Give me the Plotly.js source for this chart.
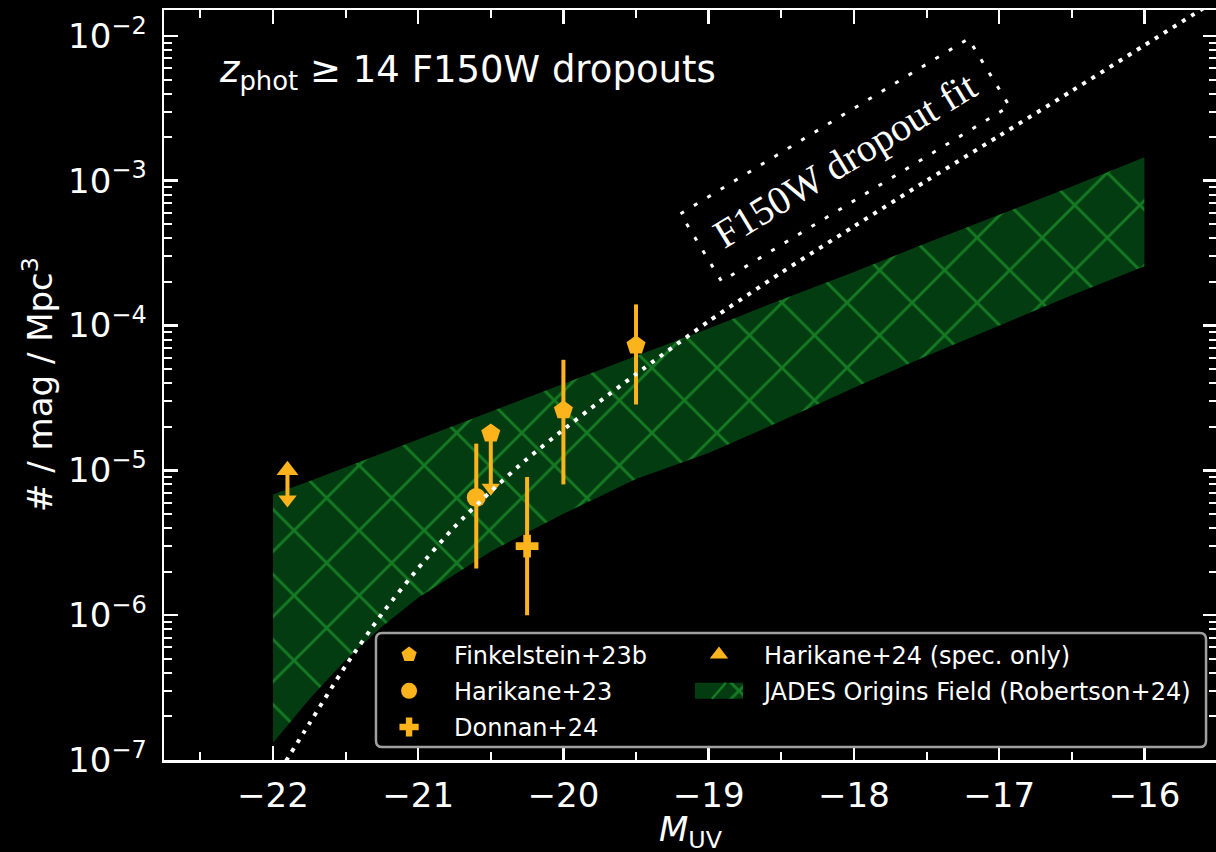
<!DOCTYPE html>
<html>
<head>
<meta charset="utf-8">
<script src="https://cdn.plot.ly/plotly-3.0.1.min.js"></script>
<style>
  html, body { margin: 0; padding: 0; background: #000; overflow: hidden; }
  #chart { width: 1218px; height: 852px; }
</style>
</head>
<body>
<div id="chart"></div>
<script>
// ---- UV luminosity function measurements (M_UV, number density / mag / Mpc^3) ----
const finkX = [-20.5, -20.0, -19.5];
const finkY = [1.8e-5, 2.6e-5, 7.3e-5];
const finkHi = [1.8e-5, 5.8e-5, 1.4e-4];
const finkLo = [7.6e-6, 8.0e-6, 2.85e-5];
const finkIsLimit = [true, false, false];

const hari23X = [-20.6];
const hari23Y = [6.5e-6];
const hari23Hi = [1.53e-5];
const hari23Lo = [2.1e-6];

const donnanX = [-20.25];
const donnanY = [3.0e-6];
const donnanHi = [9.0e-6];
const donnanLo = [1.0e-6];

const hari24X = [-21.9];
const hari24Y = [1.0e-5];
const hari24Lo = [6.3e-6];   // upper limit: arrow end

// JADES Origins Field constraint (Robertson+24), lower/upper envelope
const bandX = [-22, -21.75, -21.5, -21.25, -21, -20.5, -20, -19.5, -19, -18.5, -18, -17.5, -17, -16.5, -16];
const bandUpper = [6.82e-6, 8.4e-6, 1.05e-5, 1.31e-5, 1.65e-5, 2.57e-5, 3.98e-5, 6.17e-5, 9.55e-5, 1.51e-4, 2.34e-4, 3.72e-4, 5.82e-4, 9.12e-4, 1.45e-3];
const bandLower = [1.31e-7, 2.63e-7, 4.90e-7, 8.32e-7, 1.32e-6, 2.75e-6, 5.01e-6, 8.71e-6, 1.32e-5, 2.19e-5, 3.72e-5, 6.17e-5, 1.0e-4, 1.62e-4, 2.57e-4];

// F150W dropout fit curve
const fitX = [-21.95, -21.75, -21.5, -21.25, -21.0, -20.75, -20.5, -20.25, -20.0, -19.75, -19.5, -19.0, -18.5, -18.0, -17.5, -17.0, -16.5, -16.0, -15.5];
const fitY = [8.5e-8, 1.78e-7, 4.47e-7, 1.02e-6, 2.11e-6, 4.07e-6, 7.16e-6, 1.20e-5, 1.91e-5, 2.99e-5, 4.62e-5, 1.07e-4, 2.32e-4, 4.84e-4, 1.0e-3, 2.04e-3, 4.17e-3, 8.61e-3, 1.78e-2];

// axis ticks
const xTickVals = [-22, -21, -20, -19, -18, -17, -16];
const yTickExponents = [-7, -6, -5, -4, -3, -2];

// ---- styling ----
const ORANGE = '#fdb41c';
const BAND_FILL = 'rgb(2,60,16)';
const BAND_HATCH = 'rgb(22,122,36)';
const FONT = 'DejaVu Sans, sans-serif';
const LEGEND_ITEM_W = 80;

function errTrace(name, xs, ys, his, los, symbol, size, legend, rank) {
  return {
    type: 'scatter', mode: 'markers', name: name, legend: legend,
    legendgroup: name, legendrank: rank,
    x: xs, y: ys,
    marker: { symbol: symbol, size: size, color: ORANGE, line: { width: 0 } },
    error_y: {
      type: 'data', symmetric: false,
      array: ys.map((v, i) => his[i] - v),
      arrayminus: ys.map((v, i) => v - los[i]),
      color: ORANGE, thickness: 4, width: 0
    },
    cliponaxis: false
  };
}

const bandTrace = {
  type: 'scatter', mode: 'lines', name: 'JADES Origins Field (Robertson+24)',
  legend: 'legend2', legendgroup: 'jades', legendrank: 2,
  x: bandX.concat(bandX.slice().reverse()),
  y: bandUpper.concat(bandLower.slice().reverse()),
  fill: 'toself', fillcolor: BAND_FILL,
  fillpattern: { shape: 'x', size: 46, solidity: 0.12, fgcolor: BAND_HATCH, bgcolor: BAND_FILL, fillmode: 'replace' },
  line: { width: 0, color: BAND_FILL },
  hoverinfo: 'skip'
};

const finkTrace = errTrace('Finkelstein+23b', finkX, finkY, finkHi, finkLo, 'pentagon', 20, 'legend', 1);
const hari23Trace = errTrace('Harikane+23', hari23X, hari23Y, hari23Hi, hari23Lo, 'circle', 19, 'legend', 2);
const donnanTrace = errTrace('Donnan+24', donnanX, donnanY, donnanHi, donnanLo, 'cross', 19, 'legend', 3);
const hari24Trace = errTrace('Harikane+24 (spec. only)', hari24X, hari24Y, hari24Y, hari24Lo, 'triangle-up', 19, 'legend2', 1);

// downward arrows marking upper limits
const arrowX = finkX.filter((_, i) => finkIsLimit[i]).concat(hari24X);
const arrowY = finkLo.filter((_, i) => finkIsLimit[i]).concat(hari24Lo);
const arrowTrace = {
  type: 'scatter', mode: 'markers', showlegend: false,
  x: arrowX, y: arrowY,
  marker: { symbol: 'triangle-down', size: 16, color: ORANGE, line: { width: 0 } },
  hoverinfo: 'skip'
};

const fitTrace = {
  type: 'scatter', mode: 'lines', showlegend: false,
  x: fitX, y: fitY,
  line: { color: '#ffffff', width: 4, dash: '4px,6.7px', shape: 'spline', smoothing: 0.6 },
  hoverinfo: 'skip'
};

// legend frame (paper coordinates)
const lb = { x0: 0.2013, x1: 0.9896, y0: 0.0173, y1: 0.1693, rx: 0.006, ry: 0.0085 };
const legendFrame = 'M' + (lb.x0 + lb.rx) + ',' + lb.y0 + ' L' + (lb.x1 - lb.rx) + ',' + lb.y0 +
  ' Q' + lb.x1 + ',' + lb.y0 + ' ' + lb.x1 + ',' + (lb.y0 + lb.ry) +
  ' L' + lb.x1 + ',' + (lb.y1 - lb.ry) + ' Q' + lb.x1 + ',' + lb.y1 + ' ' + (lb.x1 - lb.rx) + ',' + lb.y1 +
  ' L' + (lb.x0 + lb.rx) + ',' + lb.y1 + ' Q' + lb.x0 + ',' + lb.y1 + ' ' + lb.x0 + ',' + (lb.y1 - lb.ry) +
  ' L' + lb.x0 + ',' + (lb.y0 + lb.ry) + ' Q' + lb.x0 + ',' + lb.y0 + ' ' + (lb.x0 + lb.rx) + ',' + lb.y0 + ' Z';

const axisCommon = {
  showgrid: false, zeroline: false,
  showline: true, linecolor: '#ffffff', linewidth: 2.5, mirror: 'allticks',
  ticks: 'inside', ticklen: 14, tickwidth: 2.5, tickcolor: '#ffffff',
  tickfont: { family: FONT, size: 34, color: '#ffffff' }
};

const legendCommon = {
  xanchor: 'left', yanchor: 'top',
  bgcolor: 'rgba(0,0,0,0)', borderwidth: 0,
  font: { family: FONT, size: 24, color: '#ffffff' },
  itemwidth: LEGEND_ITEM_W, tracegroupgap: 2, traceorder: 'grouped'
};

function px2paperX(px) { return (px - 164) / 1053; }
function px2paperY(py) { return (760 - py) / 750; }

const layout = {
  width: 1218, height: 852,
  paper_bgcolor: '#000000', plot_bgcolor: '#000000',
  margin: { l: 164, r: 1, t: 10, b: 92, autoexpand: false },
  font: { family: FONT, color: '#ffffff', size: 34 },
  showlegend: true,
  xaxis: Object.assign({}, axisCommon, {
    type: 'linear', range: [-22.75, -15.5],
    tickmode: 'array', tickvals: xTickVals,
    ticklabelstandoff: 4,
    minor: { dtick: 0.5, tick0: -22, ticks: 'inside', ticklen: 8, tickwidth: 2, tickcolor: '#ffffff', showgrid: false }
  }),
  yaxis: Object.assign({}, axisCommon, {
    type: 'log', range: [-7, -1.821],
    tickmode: 'array',
    tickvals: yTickExponents.map(e => Math.pow(10, e)),
    ticktext: yTickExponents.map(e => '10<sup><span style="font-size:24px">\u2212' + Math.abs(e) + '</span></sup>'),
    ticklabelstandoff: 8,
    minor: { tickmode: 'linear', dtick: 'D1', ticks: 'inside', ticklen: 8, tickwidth: 2, tickcolor: '#ffffff', showgrid: false }
  }),
  legend: Object.assign({}, legendCommon, { x: 0.19, y: 0.17 }),
  legend2: Object.assign({}, legendCommon, { x: 0.4843, y: 0.17 }),
  shapes: [
    { type: 'path', xref: 'paper', yref: 'paper', path: legendFrame,
      line: { color: '#a0a0a0', width: 2.5 }, fillcolor: '#000000', layer: 'above' }
  ],
  annotations: [
    { xref: 'paper', yref: 'paper', x: 0.0503, y: 0.917, xanchor: 'left', yanchor: 'middle',
      text: '<i>z</i><sub>phot</sub> ≥ 14 F150W dropouts', showarrow: false,
      font: { family: FONT, size: 37, color: '#ffffff' } },
    { xref: 'paper', yref: 'paper', x: 0.6467, y: 0.8, xanchor: 'center', yanchor: 'middle',
      text: 'F150W dropout fit', showarrow: false, textangle: -31.3,
      width: 330, height: 72, borderpad: 2, borderwidth: 3, bordercolor: '#ffffff',
      font: { family: 'Liberation Serif, serif', size: 40, color: '#ffffff' } },
    // axis titles
    { xref: 'paper', yref: 'paper', x: 0.5, y: px2paperY(831), xanchor: 'center', yanchor: 'middle',
      text: '<i>M</i><sub>UV</sub>', showarrow: false,
      font: { family: FONT, size: 34, color: '#ffffff' } },
    { xref: 'paper', yref: 'paper', x: px2paperX(38), y: 0.5, xanchor: 'center', yanchor: 'middle',
      text: '# / mag / Mpc<sup>3</sup>', showarrow: false, textangle: -90,
      font: { family: FONT, size: 34, color: '#ffffff' } }
  ]
};

const traces = [bandTrace, finkTrace, hari23Trace, donnanTrace, hari24Trace, arrowTrace, fitTrace];

Plotly.newPlot('chart', traces, layout, { staticPlot: true, displayModeBar: false }).then(function (gd) {
  // dotted frame around the fit label
  gd.querySelectorAll('.annotation[data-index="1"] rect.bg').forEach(function (r) {
    r.style.strokeDasharray = '4 11.7';
  });
  // legend swatch for the hatched band: a full-height patch with one hatch stroke
  const cx = 5 + LEGEND_ITEM_W / 2;
  gd.querySelectorAll('.legendfill path').forEach(function (p) {
    const d = p.getAttribute('d');
    if (!d) return;
    p.setAttribute('d', 'M' + (cx - 24) + ',-8h48v16h-48z');
    const hatch = document.createElementNS('http://www.w3.org/2000/svg', 'path');
    hatch.setAttribute('d', 'M' + (cx - 7) + ',8L' + (cx + 7) + ',-8');
    hatch.setAttribute('stroke', BAND_HATCH);
    hatch.setAttribute('stroke-width', '2.5');
    hatch.setAttribute('fill', 'none');
    p.parentNode.appendChild(hatch);
  });
});
</script>
</body>
</html>
